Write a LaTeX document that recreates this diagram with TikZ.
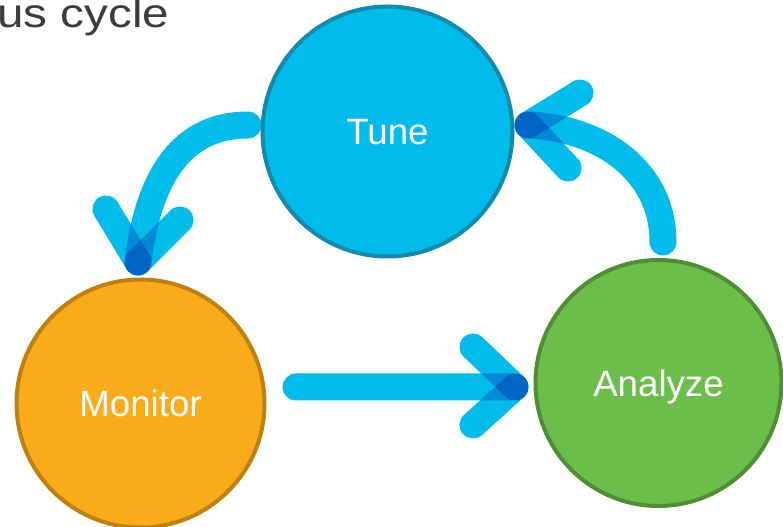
\documentclass[tikz,border=0pt]{standalone}
\usepackage{fontspec}
\setmainfont{Liberation Sans}
\newfontfamily\titlefont{Liberation Sans}[FakeStretch=1.17]
\usetikzlibrary{backgrounds}

\definecolor{tunefill}{HTML}{00BCEB}
\definecolor{tuneline}{HTML}{128BAF}
\definecolor{monitorfill}{HTML}{FAAB1A}
\definecolor{monitorline}{HTML}{BF800E}
\definecolor{analyzefill}{HTML}{6CBE4B}
\definecolor{analyzeline}{HTML}{4F8F34}
\definecolor{flowblue}{HTML}{00BCEB}
\definecolor{titlegray}{HTML}{3C3C3C}

\tikzset{
  stage/.style={circle, inner sep=0pt, line width=3pt, text=white,
    text depth=0pt, font=\fontsize{27.5}{32}\selectfont},
  flow/.style={draw=flowblue, line width=20.25pt, line cap=round},
}

\begin{document}
\begin{tikzpicture}[x=0.75pt, y=-0.75pt]
    % --- page size in pixels ---
    \useasboundingbox (0,0) rectangle (783,527);

    % title, cut at the left
    \node[anchor=base west, inner sep=0pt, text=titlegray,
      font=\titlefont\fontsize{30.5}{36}\selectfont] (title) at (-3,28) {us cycle};

    % the three stages
    \node[stage, minimum size=187.5pt, fill=tunefill, draw=tuneline] (tune) at (387.5,131.5) {Tune};
    \node[stage, minimum size=186pt, fill=monitorfill, draw=monitorline] (monitor) at (140.5,403.5) {Monitor};
    \node[stage, minimum size=184.5pt, fill=analyzefill, draw=analyzeline] (analyze) at (658.5,383) {Analyze};

    % ends of the arrows
    \coordinate (tm-tail) at (248,125);
    \coordinate (tm-tip) at (138,262);
    \coordinate (tm-left) at (106,209);
    \coordinate (tm-right) at (180,220);
    \coordinate (ma-tail) at (296,387);
    \coordinate (ma-tip) at (515,387);
    \coordinate (ma-up) at (473,347);
    \coordinate (ma-down) at (473,425);
    \coordinate (at-tail) at (663,242);
    \coordinate (at-tip) at (528,125);
    \coordinate (at-up) at (580,93);
    \coordinate (at-down) at (568,168);

    % --- arrows, overlaps get darker ---
    \begin{pgfonlayer}{background}
    \begin{scope}[blend group=multiply]
      \draw[flow] (tm-tail) .. controls (175,125) and (147,188) .. (tm-tip);
      \draw[flow] (tm-tip) -- (tm-left);
      \draw[flow] (tm-tip) -- (tm-right);
      \draw[flow] (ma-tail) -- (ma-tip);
      \draw[flow] (ma-tip) -- (ma-up);
      \draw[flow] (ma-tip) -- (ma-down);
      \draw[flow] (at-tail) .. controls (663,170) and (600,128) .. (at-tip);
      \draw[flow] (at-tip) -- (at-up);
      \draw[flow] (at-tip) -- (at-down);
    \end{scope}
    \end{pgfonlayer}
\end{tikzpicture}
\end{document}
